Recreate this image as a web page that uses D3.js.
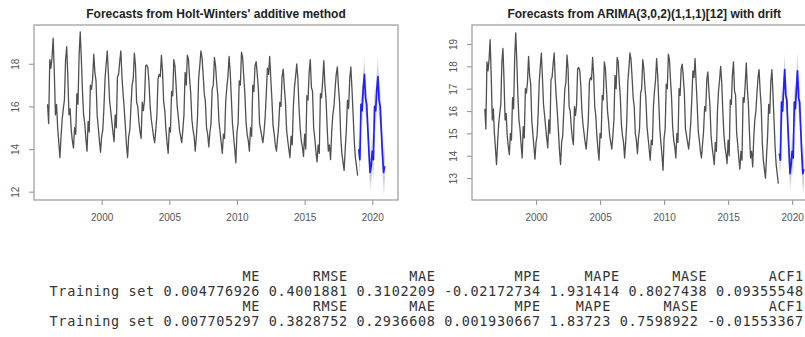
<!DOCTYPE html>
<html>
<head>
<meta charset="utf-8">
<script src="https://cdn.jsdelivr.net/npm/d3@7"></script>
<style>
  body { margin: 0; background: #fff; }
  svg text { font-family: "Liberation Sans", Arial, sans-serif; }
  .tbl { font-family: "DejaVu Sans Mono", "Liberation Mono", monospace; }
</style>
</head>
<body>
<div class="chart"></div>
<script>
// Data
//= ================================
var startYear = 1996;     // monthly series, Jan 1996 .. Dec 2018
var fcStartYear = 2019;   // 24 monthly forecasts

var observed = [
  16.1, 15.2, 18.2, 17.8, 18.3, 19.2, 17.6, 15.6, 16.1, 15.0, 14.3, 13.6,   // 1996
  14.6, 15.4, 15.9, 16.3, 18.2, 18.8, 17.4, 15.6, 15.9, 14.9, 14.4, 14.05,  // 1997
  15.0, 14.7, 16.6, 16.1, 18.4, 19.5, 18.2, 16.7, 15.6, 15.2, 14.5, 13.9,   // 1998
  15.3, 14.8, 17.0, 16.8, 17.3, 18.45, 17.6, 17.2, 15.6, 15.0, 14.4, 13.85, // 1999
  14.6, 14.9, 15.9, 17.3, 18.0, 18.6, 17.5, 16.3, 15.8, 15.3, 14.8, 14.35,  // 2000
  15.6, 15.0, 17.4, 17.5, 18.1, 18.6, 17.4, 16.6, 15.9, 15.1, 14.2, 13.6,   // 2001
  14.6, 14.9, 16.0, 17.0, 17.3, 18.5, 17.9, 16.2, 16.0, 15.3, 14.8, 14.5,   // 2002
  16.2, 15.8, 16.3, 17.9, 17.95, 17.8, 17.1, 16.0, 15.4, 15.0, 14.6, 14.3,  // 2003
  14.9, 15.6, 17.3, 17.5, 17.4, 18.4, 17.6, 16.2, 15.8, 14.9, 14.3, 13.8,   // 2004
  15.0, 14.8, 16.7, 16.5, 18.2, 17.9, 17.0, 16.0, 15.5, 14.9, 14.6, 14.3,   // 2005
  14.9, 15.6, 17.6, 17.0, 18.4, 18.2, 17.3, 16.6, 15.4, 14.9, 14.6, 13.9,   // 2006
  14.6, 15.5, 17.3, 17.9, 18.6, 18.3, 17.5, 16.6, 16.2, 15.0, 14.7, 14.1,   // 2007
  14.8, 15.2, 16.8, 17.0, 18.3, 17.9, 17.1, 16.5, 15.3, 14.8, 14.3, 13.8,   // 2008
  14.7, 14.5, 16.2, 16.9, 17.4, 18.35, 17.6, 16.4, 15.2, 14.6, 14.0, 13.35, // 2009
  14.8, 15.2, 17.2, 17.0, 18.55, 18.3, 17.4, 16.6, 15.3, 14.7, 14.4, 13.9,  // 2010
  15.0, 14.6, 17.0, 16.7, 17.9, 18.1, 17.5, 16.8, 15.2, 14.9, 14.6, 14.3,   // 2011
  14.8, 15.5, 16.6, 17.8, 17.5, 18.35, 17.3, 16.3, 15.1, 14.7, 14.2, 13.9,  // 2012
  14.5, 15.1, 16.2, 16.0, 17.4, 17.75, 16.9, 16.2, 14.9, 14.4, 14.0, 13.6,  // 2013
  14.6, 14.2, 16.0, 16.9, 17.4, 18.0, 17.3, 16.0, 15.0, 14.4, 14.1, 13.65,  // 2014
  14.7, 14.0, 16.5, 16.3, 17.6, 18.2, 16.9, 16.7, 15.0, 14.5, 13.9, 13.4,   // 2015
  14.2, 13.8, 16.6, 16.4, 17.2, 18.15, 17.0, 16.3, 15.0, 13.9, 14.2, 13.5,  // 2016
  14.8, 15.6, 16.0, 16.8, 17.5, 17.85, 16.9, 16.2, 14.6, 13.8, 13.4, 13.0,  // 2017
  14.0, 14.9, 16.3, 15.9, 17.3, 17.85, 16.8, 15.6, 14.4, 13.6, 13.2, 12.75  // 2018
];

// Holt-Winters forecasts and interval half widths
var hwMean = [
  14.0, 13.5, 16.1, 15.8, 16.9, 17.5, 16.4, 16.1, 15.0, 13.9, 12.9, 13.2,
  13.9, 13.5, 16.0, 15.8, 16.8, 17.4, 16.3, 16.0, 14.9, 13.8, 12.9, 13.2
];
var hwHalf80 = [
  0.48, 0.5, 0.52, 0.53, 0.55, 0.56, 0.57, 0.58, 0.59, 0.6, 0.61, 0.62,
  0.63, 0.64, 0.65, 0.66, 0.66, 0.67, 0.68, 0.68, 0.69, 0.7, 0.7, 0.71
];
var hwHalf95 = [
  0.74, 0.76, 0.79, 0.81, 0.84, 0.86, 0.87, 0.89, 0.9, 0.92, 0.93, 0.95,
  0.96, 0.97, 0.99, 1.0, 1.01, 1.02, 1.03, 1.04, 1.05, 1.06, 1.07, 1.08
];

// ARIMA forecasts and interval half widths
var arMean = [
  14.1, 13.8, 16.4, 16.0, 17.0, 17.85, 16.7, 16.5, 15.3, 14.2, 13.2, 13.6,
  14.2, 13.9, 16.4, 16.1, 17.0, 17.8, 16.6, 16.4, 15.2, 14.1, 13.2, 13.4
];
var arHalf80 = [
  0.45, 0.47, 0.48, 0.49, 0.5, 0.51, 0.52, 0.53, 0.54, 0.55, 0.56, 0.56,
  0.58, 0.59, 0.6, 0.6, 0.61, 0.61, 0.62, 0.62, 0.63, 0.63, 0.64, 0.64
];
var arHalf95 = [
  0.69, 0.71, 0.73, 0.75, 0.77, 0.78, 0.8, 0.81, 0.82, 0.83, 0.85, 0.86,
  0.88, 0.89, 0.9, 0.91, 0.92, 0.93, 0.94, 0.95, 0.96, 0.96, 0.97, 0.98
];

var yearTicks = [2000, 2005, 2010, 2015, 2020];
var hwYTicks = [12, 14, 16, 18];
var arYTicks = [13, 14, 15, 16, 17, 18, 19];

// accuracy() output, kept as printed
var accHeader = ["ME", "RMSE", "MAE", "MPE", "MAPE", "MASE", "ACF1"];
var accRowName = "Training set";
var hwAcc = ["0.004776926", "0.4001881", "0.3102209", "-0.02172734", "1.931414", "0.8027438", "0.09355548"];
var arAcc = ["0.007705297", "0.3828752", "0.2936608", "0.001930667", "1.83723", "0.7598922", "-0.01553367"];

// Step 0: Set up the page
//= ================================
var svgWidth = 805;
var svgHeight = 337;

var svg = d3
  .select(".chart")
  .append("svg")
  .attr("width", svgWidth)
  .attr("height", svgHeight);

function drawPanel(cfg) {
  var x = d3.scaleLinear().domain([1995.0, 2021.9]).range([cfg.left, cfg.right]);
  var y = d3.scaleLinear().domain(cfg.yDomain).range([cfg.bottom, cfg.top]);

  var g = svg.append("g");

  // forecast intervals (95% then 80%)
  var fc = cfg.mean.map(function(m, i) {
    return { t: fcStartYear + i / 12, m: m, h80: cfg.half80[i], h95: cfg.half95[i] };
  });

  var area95 = d3.area()
    .x(function(d) { return x(d.t); })
    .y0(function(d) { return y(d.m - d.h95); })
    .y1(function(d) { return y(d.m + d.h95); });
  var area80 = d3.area()
    .x(function(d) { return x(d.t); })
    .y0(function(d) { return y(d.m - d.h80); })
    .y1(function(d) { return y(d.m + d.h80); });

  g.append("path").datum(fc).attr("d", area95).attr("fill", "#e6e7f0");
  g.append("path").datum(fc).attr("d", area80).attr("fill", "#cbcde0");

  // observed series
  var line = d3.line()
    .x(function(d, i) { return x(startYear + i / 12); })
    .y(function(d) { return y(d); });

  g.append("path")
    .datum(observed)
    .attr("d", line)
    .attr("fill", "none")
    .attr("stroke", "#505050")
    .attr("stroke-width", 1.3)
    .attr("stroke-linejoin", "round");

  // forecast mean
  var fline = d3.line()
    .x(function(d) { return x(d.t); })
    .y(function(d) { return y(d.m); });

  g.append("path")
    .datum(fc)
    .attr("d", fline)
    .attr("fill", "none")
    .attr("stroke", "#1f1fff")
    .attr("stroke-width", 1.7)
    .attr("stroke-linejoin", "round");

  // box
  g.append("rect")
    .attr("x", cfg.left)
    .attr("y", cfg.top)
    .attr("width", cfg.right - cfg.left)
    .attr("height", cfg.bottom - cfg.top)
    .attr("fill", "none")
    .attr("stroke", "#999")
    .attr("stroke-width", 1.2);

  // axes
  var bottomAxis = d3.axisBottom(x).tickValues(yearTicks).tickSize(5).tickPadding(9).tickFormat(d3.format("d"));
  var leftAxis = d3.axisLeft(y).tickValues(cfg.yTicks).tickSize(5).tickFormat(d3.format("d"));

  var xa = g.append("g")
    .attr("transform", "translate(0," + cfg.bottom + ")")
    .call(bottomAxis);
  var ya = g.append("g")
    .attr("transform", "translate(" + cfg.left + ",0)")
    .call(leftAxis);

  [xa, ya].forEach(function(a) {
    a.select(".domain").remove();
    a.selectAll("line").attr("stroke", "#999").attr("stroke-width", 1.1);
    a.selectAll("text").attr("fill", "#555").style("font-size", "10px");
  });

  ya.selectAll("text")
    .attr("x", 0)
    .attr("dy", 0)
    .attr("text-anchor", "middle")
    .attr("transform", "translate(-15,0) rotate(-90)");

  // title
  g.append("text")
    .attr("x", (cfg.left + cfg.right) / 2)
    .attr("y", 18)
    .attr("text-anchor", "middle")
    .attr("font-weight", "bold")
    .style("font-size", "12px")
    .attr("fill", "#222")
    .text(cfg.title);
}

drawPanel({
  left: 34, right: 398, top: 25, bottom: 200,
  yDomain: [11.61, 19.82],
  yTicks: hwYTicks,
  mean: hwMean, half80: hwHalf80, half95: hwHalf95,
  title: "Forecasts from Holt-Winters' additive method"
});

drawPanel({
  left: 472, right: 816.5, top: 25, bottom: 200,
  yDomain: [12.02, 19.85],
  yTicks: arYTicks,
  mean: arMean, half80: arHalf80, half95: arHalf95,
  title: "Forecasts from ARIMA(3,0,2)(1,1,1)[12] with drift"
});

// Accuracy table, right aligned columns like the R console
//= ================================
var charW = 8.77;
var tableLeft = 49;

function drawTable(values, headerY, rowY) {
  var ends = [accRowName.length];
  values.forEach(function(v, i) {
    var w = Math.max(v.length, accHeader[i].length);
    ends.push(ends[ends.length - 1] + 1 + w);
  });

  var t = svg.append("g").attr("class", "tbl").attr("fill", "#333").style("font-size", "13.5px");

  t.selectAll(".hd")
    .data(accHeader)
    .enter()
    .append("text")
    .attr("class", "tbl")
    .attr("x", function(d, i) { return tableLeft + ends[i + 1] * charW; })
    .attr("y", headerY)
    .attr("text-anchor", "end")
    .attr("textLength", function(d) { return d.length * charW - 0.6; })
    .text(function(d) { return d; });

  t.append("text")
    .attr("class", "tbl")
    .attr("x", tableLeft + ends[0] * charW)
    .attr("y", rowY)
    .attr("text-anchor", "end")
    .attr("textLength", accRowName.length * charW - 0.6)
    .text(accRowName);

  t.selectAll(".vl")
    .data(values)
    .enter()
    .append("text")
    .attr("class", "tbl")
    .attr("x", function(d, i) { return tableLeft + ends[i + 1] * charW; })
    .attr("y", rowY)
    .attr("text-anchor", "end")
    .attr("textLength", function(d) { return d.length * charW - 0.6; })
    .text(function(d) { return d; });
}

drawTable(hwAcc, 281, 296);
drawTable(arAcc, 311, 326);
</script>
</body>
</html>
